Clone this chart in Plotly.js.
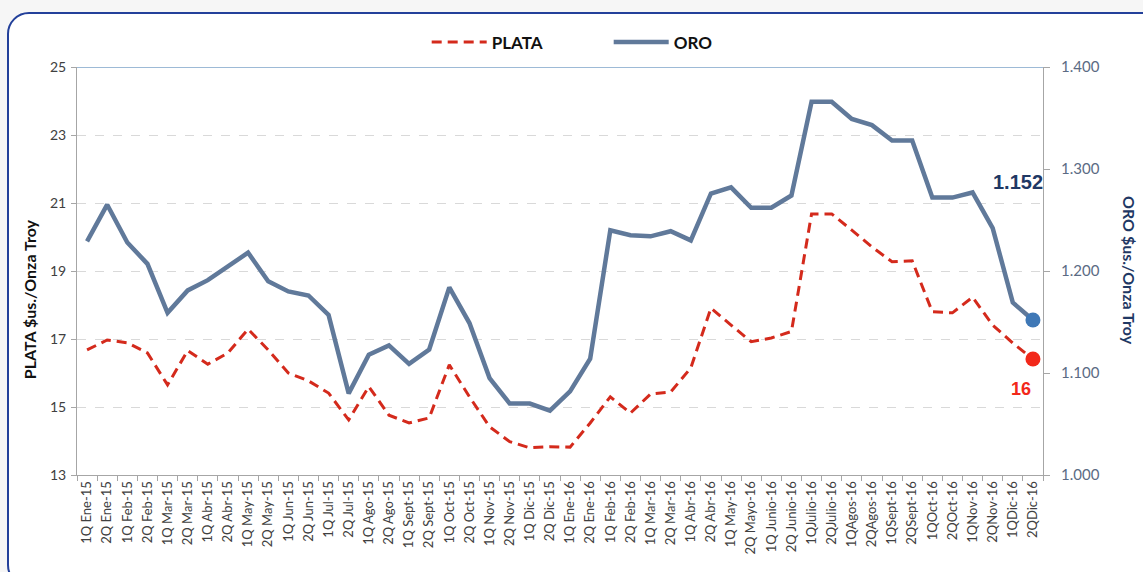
<!DOCTYPE html>
<html>
<head>
<meta charset="utf-8">
<script src="https://cdn.plot.ly/plotly-3.0.1.min.js"></script>
<style>
  html, body { margin: 0; padding: 0; background: #f6f6f6; }
  #wrap { position: relative; width: 1143px; height: 572px; overflow: hidden; }
  #frame { position: absolute; left: 7px; top: 12px; width: 1160px; height: 575px;
           border: 2.5px solid #23409a; border-radius: 22px; background: #ffffff; box-sizing: border-box; }
  #chart { position: absolute; left: 0; top: 0; width: 1143px; height: 572px; }
</style>
</head>
<body>
<div id="wrap">
  <div id="frame"></div>
  <div id="chart"></div>
</div>
<script>
const categories = [
  "1Q Ene-15","2Q Ene-15","1Q Feb-15","2Q Feb-15","1Q Mar-15","2Q Mar-15",
  "1Q Abr-15","2Q Abr-15","1Q May-15","2Q May-15","1Q Jun-15","2Q Jun-15",
  "1Q Jul-15","2Q Jul-15","1Q Ago-15","2Q Ago-15","1Q Sept-15","2Q Sept-15",
  "1Q Oct-15","2Q Oct-15","1Q Nov-15","2Q Nov-15","1Q Dic-15","2Q Dic-15",
  "1Q Ene-16","2Q Ene-16","1Q Feb-16","2Q Feb-16","1Q Mar-16","2Q Mar-16",
  "1Q Abr-16","2Q Abr-16","1Q May-16","2Q Mayo-16","1Q Junio-16","2Q Junio-16",
  "1QJulio-16","2QJulio-16","1QAgos-16","2QAgos-16","1QSept-16","2QSept-16",
  "1QOct-16","2QOct-16","1QNov-16","2QNov-16","1QDic-16","2QDic-16"
];
const plata = [
  16.68, 16.97, 16.89, 16.59, 15.65, 16.66, 16.26, 16.59, 17.29, 16.68, 16.00, 15.77,
  15.41, 14.62, 15.60, 14.76, 14.53, 14.68, 16.24, 15.30, 14.42, 13.98, 13.80, 13.83,
  13.82, 14.53, 15.30, 14.82, 15.38, 15.44, 16.15, 17.91, 17.41, 16.92, 17.03, 17.22,
  20.68, 20.68, 20.20, 19.71, 19.27, 19.30, 17.80, 17.77, 18.23, 17.41, 16.88, 16.41
];
const oro = [
  1229, 1265, 1228, 1207, 1159, 1181, 1191, 1204, 1218, 1190, 1180, 1176,
  1157, 1080, 1118, 1127, 1109, 1123, 1184, 1149, 1095, 1070, 1070, 1063,
  1082, 1114, 1240, 1235, 1234, 1239, 1230, 1276, 1282, 1262, 1262, 1274,
  1366, 1366, 1349, 1343, 1328, 1328, 1272, 1272, 1277, 1242, 1169, 1152
];
const plataLabel = "16";
const oroLabel = "1.152";
const leftTitle = "PLATA $us./Onza Troy";
const rightTitle = "ORO $us./Onza Troy";

const last = categories.length - 1;
const FONT = "Lato, 'Open Sans', sans-serif";
const BOLDFONT = "'Liberation Sans', Arial, sans-serif";

const traces = [
  {
    x: categories, y: plata, name: "PLATA", type: "scatter", mode: "lines",
    line: { color: "#d42a1c", width: 3, dash: "10px,6px" }, yaxis: "y", hoverinfo: "skip"
  },
  {
    x: categories, y: oro, name: "ORO", type: "scatter", mode: "lines",
    line: { color: "#60799a", width: 4.5 }, yaxis: "y2", hoverinfo: "skip"
  },
  {
    x: [categories[last]], y: [plata[last]], type: "scatter", mode: "markers",
    marker: { color: "#f2281a", size: 15 }, yaxis: "y", showlegend: false, hoverinfo: "skip"
  },
  {
    x: [categories[last]], y: [oro[last]], type: "scatter", mode: "markers",
    marker: { color: "#3f78b6", size: 15 }, yaxis: "y2", showlegend: false, hoverinfo: "skip"
  }
];

const layout = {
  width: 1143, height: 572,
  paper_bgcolor: "rgba(0,0,0,0)", plot_bgcolor: "#ffffff",
  margin: { l: 77, r: 100, t: 67, b: 97 },
  separators: ",.",
  font: { family: FONT, color: "#404040" },
  showlegend: true,
  legend: {
    orientation: "h", x: 0.362, xanchor: "left", y: 1.06, yanchor: "middle",
    font: { family: FONT, size: 17, color: "#111111", weight: "bold" },
    bgcolor: "rgba(0,0,0,0)", itemwidth: 55, entrywidth: 112
  },
  xaxis: {
    type: "category", range: [-0.5, last + 0.5],
    tickangle: -90, tickfont: { size: 13, color: "#404040" },
    showgrid: false, showline: true, linecolor: "#a6a6a6", linewidth: 1,
    ticks: "outside", tickson: "boundaries", ticklen: 5, tickcolor: "#a6a6a6",
    zeroline: false, fixedrange: true
  },
  yaxis: {
    range: [13, 25], tick0: 13, dtick: 2,
    tickfont: { size: 14, color: "#404040" }, ticklabelstandoff: 2,
    showgrid: true, gridcolor: "#d9d9d9", griddash: "dash", gridwidth: 1,
    showline: true, linecolor: "#a6a6a6", linewidth: 1,
    ticks: "outside", ticklen: 5, tickcolor: "#a6a6a6",
    zeroline: false, fixedrange: true
  },
  yaxis2: {
    range: [1000, 1400], tick0: 1000, dtick: 100, tickformat: ",.0f",
    overlaying: "y", side: "right",
    tickfont: { size: 15, color: "#5b6b84" }, ticklabelstandoff: 8,
    showgrid: false, showline: true, linecolor: "#a6a6a6", linewidth: 1,
    ticks: "outside", ticklen: 6, tickcolor: "#a6a6a6",
    zeroline: false, fixedrange: true
  },
  shapes: [
    { type: "line", xref: "paper", yref: "y", x0: 0, x1: 1, y0: 25, y1: 25,
      line: { color: "#7da3c8", width: 1.5 } }
  ],
  annotations: [
    { text: leftTitle, xref: "paper", yref: "paper", x: -0.049, y: 0.43,
      xanchor: "center", yanchor: "middle", textangle: -90, showarrow: false,
      font: { family: FONT, size: 16, color: "#111111", weight: "bold" } },
    { text: rightTitle, xref: "paper", yref: "paper", x: 1.09, y: 0.5,
      xanchor: "center", yanchor: "middle", textangle: 90, showarrow: false,
      font: { family: FONT, size: 16, color: "#1f3864", weight: "bold" } },
    { text: oroLabel, x: categories[last], y: oro[last], xref: "x", yref: "y2",
      showarrow: false, xshift: 12, yshift: 138, xanchor: "right",
      font: { family: BOLDFONT, size: 20, color: "#1f3864", weight: "bold" } },
    { text: plataLabel, x: categories[last], y: plata[last], xref: "x", yref: "y",
      showarrow: false, xshift: -12, yshift: -30,
      font: { family: BOLDFONT, size: 18, color: "#f2281a", weight: "bold" } }
  ]
};

Plotly.newPlot("chart", traces, layout, { displayModeBar: false, staticPlot: true });
</script>
</body>
</html>
